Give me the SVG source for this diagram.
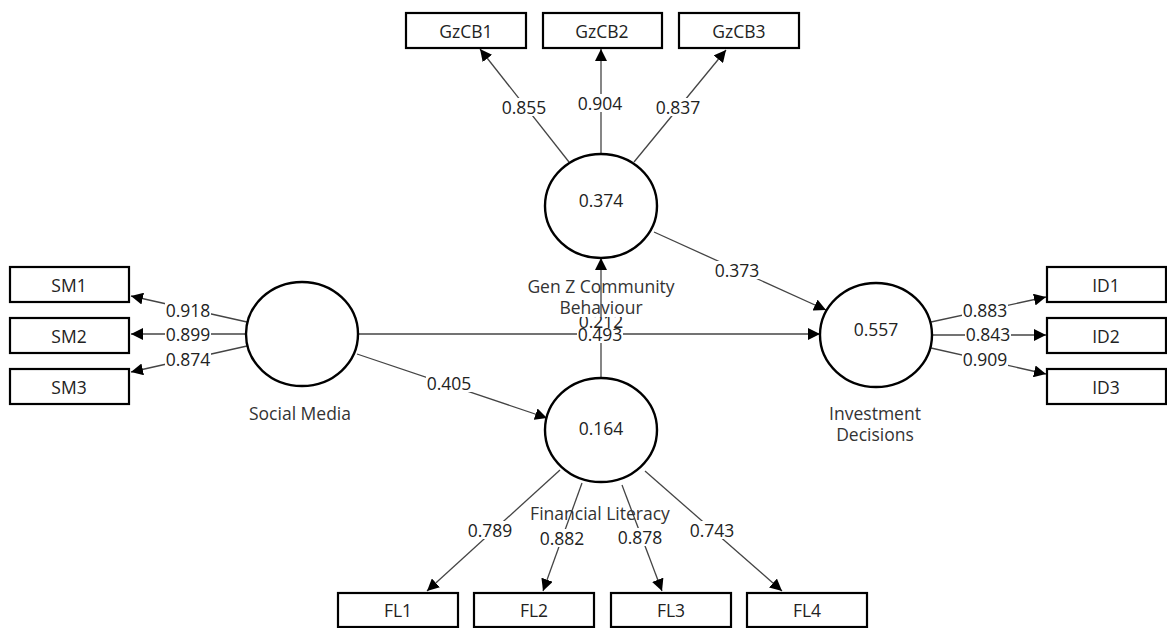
<svg xmlns="http://www.w3.org/2000/svg" width="1167" height="628" viewBox="0 0 1167 628">
<defs>
<style>
text{font-family:"Open Sans","Noto Sans","DejaVu Sans",sans-serif;font-size:17.5px;text-anchor:middle;dominant-baseline:central;fill:#222}
.box{fill:#fff;stroke:#000;stroke-width:2.2}
.lv{fill:#fff;stroke:#000;stroke-width:2.4}
.ln{stroke:#444;stroke-width:1.3;fill:none;marker-end:url(#arr)}
.bg{fill:#fff}
.nl{fill:#333}
</style>
<marker id="arr" viewBox="0 0 12 12" refX="12" refY="6" markerWidth="12" markerHeight="12" orient="auto" markerUnits="userSpaceOnUse">
<path d="M0,0 L12,6 L0,12 z" fill="#000"/>
</marker>
<clipPath id="c212"><rect x="570" y="317" width="60" height="11"/></clipPath>
</defs>
<rect width="1167" height="628" fill="#fff"/>

<g id="connectors">
<line class="ln" x1="569" y1="162" x2="480" y2="49"/>
<line class="ln" x1="601" y1="155" x2="601" y2="49"/>
<line class="ln" x1="634" y1="162" x2="726" y2="50"/>
<line class="ln" x1="247" y1="322" x2="131" y2="296"/>
<line class="ln" x1="246" y1="334" x2="131" y2="334"/>
<line class="ln" x1="247" y1="346" x2="131" y2="372"/>
<line class="ln" x1="931" y1="322" x2="1046" y2="297"/>
<line class="ln" x1="932" y1="335" x2="1046" y2="335"/>
<line class="ln" x1="931" y1="348" x2="1046" y2="374"/>
<line class="ln" x1="560" y1="470" x2="427" y2="591"/>
<line class="ln" x1="582" y1="483" x2="543" y2="591"/>
<line class="ln" x1="622" y1="485" x2="662" y2="591"/>
<line class="ln" x1="645" y1="471" x2="782" y2="591"/>
<line class="ln" x1="654" y1="232" x2="826" y2="310"/>
<line class="ln" x1="358" y1="334" x2="820" y2="334"/>
<line class="ln" x1="357" y1="354" x2="547" y2="418"/>
<line class="ln" x1="601" y1="382" x2="601" y2="258"/>

<g id="edge-labels">
<rect class="bg" x="501" y="98" width="46" height="18"/><text x="524" y="107">0.855</text>
<rect class="bg" x="577" y="94" width="46" height="18"/><text x="600" y="103">0.904</text>
<rect class="bg" x="655" y="98" width="46" height="18"/><text x="678" y="107">0.837</text>
<rect class="bg" x="165" y="301" width="46" height="18"/><text x="188" y="310">0.918</text>
<rect class="bg" x="165" y="325" width="46" height="18"/><text x="188" y="334">0.899</text>
<rect class="bg" x="165" y="350" width="46" height="18"/><text x="188" y="359">0.874</text>
<rect class="bg" x="962" y="301" width="46" height="18"/><text x="985" y="310">0.883</text>
<rect class="bg" x="965" y="325" width="46" height="18"/><text x="988" y="334">0.843</text>
<rect class="bg" x="962" y="350" width="46" height="18"/><text x="985" y="359">0.909</text>
<rect class="bg" x="467" y="521" width="46" height="18"/><text x="490" y="530">0.789</text>
<rect class="bg" x="539" y="529" width="46" height="18"/><text x="562" y="538">0.882</text>
<rect class="bg" x="617" y="528" width="46" height="18"/><text x="640" y="537">0.878</text>
<rect class="bg" x="689" y="521" width="46" height="18"/><text x="712" y="530">0.743</text>
<rect class="bg" x="714" y="261" width="46" height="18"/><text x="737" y="270">0.373</text>
<rect class="bg" x="577" y="325" width="46" height="18"/><text x="600" y="334">0.493</text>
<rect class="bg" x="426" y="374" width="46" height="18"/><text x="449" y="383">0.405</text>
<rect class="bg" x="578" y="317" width="46" height="8"/><text x="601" y="321" clip-path="url(#c212)">0.212</text>
</g>
</g>

<g id="GzCB1"><rect class="box" x="406" y="13" width="120" height="35"/><text x="466" y="31">GzCB1</text></g>
<g id="GzCB2"><rect class="box" x="543" y="13" width="119" height="35"/><text x="602" y="31">GzCB2</text></g>
<g id="GzCB3"><rect class="box" x="679" y="13" width="120" height="35"/><text x="739" y="31">GzCB3</text></g>

<g id="SM1"><rect class="box" x="10" y="267" width="119" height="35"/><text x="69" y="285">SM1</text></g>
<g id="SM2"><rect class="box" x="10" y="318" width="119" height="35"/><text x="69" y="336">SM2</text></g>
<g id="SM3"><rect class="box" x="10" y="369" width="119" height="35"/><text x="69" y="387">SM3</text></g>

<g id="ID1"><rect class="box" x="1047" y="267" width="119" height="35"/><text x="1106" y="285">ID1</text></g>
<g id="ID2"><rect class="box" x="1047" y="318" width="119" height="35"/><text x="1106" y="336">ID2</text></g>
<g id="ID3"><rect class="box" x="1047" y="369" width="119" height="35"/><text x="1106" y="387">ID3</text></g>

<g id="FL1"><rect class="box" x="338" y="593" width="120" height="34"/><text x="398" y="610">FL1</text></g>
<g id="FL2"><rect class="box" x="474" y="593" width="120" height="34"/><text x="534" y="610">FL2</text></g>
<g id="FL3"><rect class="box" x="611" y="593" width="120" height="34"/><text x="671" y="610">FL3</text></g>
<g id="FL4"><rect class="box" x="747" y="593" width="120" height="34"/><text x="807" y="610">FL4</text></g>

<g id="GenZCommunityBehaviour">
<ellipse class="lv" cx="601" cy="206" rx="56" ry="52"/>
<text x="601" y="200">0.374</text>
<text class="nl" x="601" y="286">Gen Z Community</text>
<text class="nl" x="601" y="307">Behaviour</text>
</g>
<g id="SocialMedia">
<ellipse class="lv" cx="302" cy="334" rx="56" ry="52"/>
<text class="nl" x="300" y="413">Social Media</text>
</g>
<g id="FinancialLiteracy">
<ellipse class="lv" cx="601" cy="430" rx="56" ry="52"/>
<text x="601" y="428">0.164</text>
<text class="nl" x="600" y="513">Financial Literacy</text>
</g>
<g id="InvestmentDecisions">
<ellipse class="lv" cx="876" cy="335" rx="56" ry="52"/>
<text x="876" y="329">0.557</text>
<text class="nl" x="875" y="413">Investment</text>
<text class="nl" x="875" y="434">Decisions</text>
</g>
</svg>
